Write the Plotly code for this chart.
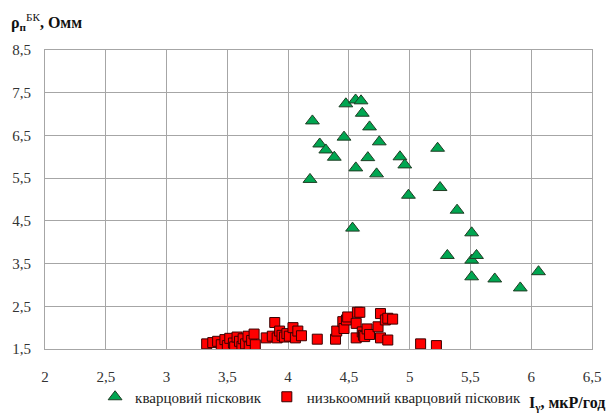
import plotly.graph_objects as go

# Quartz sandstone: gamma activity (мкР/год) vs apparent resistivity (Омм)
quartz_x = [4.18, 4.20, 4.26, 4.31, 4.38, 4.46, 4.475, 4.53, 4.555, 4.557,
            4.60, 4.61, 4.656, 4.67, 4.728, 4.75, 4.92, 4.96, 4.99, 5.23,
            5.25, 5.31, 5.39, 5.51, 5.51, 5.51, 5.55, 5.70, 5.91, 6.06]
quartz_y = [5.47, 6.84, 6.30, 6.16, 5.99, 6.46, 7.24, 4.33, 7.33, 5.74,
            7.31, 7.02, 5.98, 6.70, 5.60, 6.35, 6.00, 5.81, 5.10, 6.20,
            5.28, 3.69, 4.75, 4.22, 3.58, 3.19, 3.69, 3.14, 2.93, 3.31]

# Low-resistivity quartz sandstone
lowres_x = [3.33, 3.38, 3.42, 3.45, 3.48, 3.50, 3.52, 3.55, 3.56, 3.58,
            3.60, 3.62, 3.63, 3.65, 3.67, 3.68, 3.70, 3.72, 3.73,
            3.82, 3.87, 3.89, 3.91, 3.93, 3.95, 3.97, 3.99, 4.01, 4.04,
            4.06, 4.08, 4.11, 4.24, 4.39, 4.40, 4.45, 4.46, 4.48, 4.49,
            4.56, 4.56, 4.57, 4.59, 4.61, 4.62, 4.63, 4.65, 4.67, 4.74,
            4.76, 4.76, 4.80, 4.82, 4.82, 4.86, 5.09, 5.22]
lowres_y = [1.62, 1.65, 1.68, 1.60, 1.72, 1.58, 1.75, 1.64, 1.55, 1.78,
            1.68, 1.56, 1.74, 1.62, 1.80, 1.55, 1.70, 1.85, 1.60,
            1.76, 1.80, 2.12, 1.76, 1.92, 1.82, 1.78, 1.86, 1.80, 2.00,
            1.76, 1.92, 1.81, 1.73, 1.73, 1.92, 2.14, 1.98, 2.18, 2.25,
            2.10, 1.76, 2.36, 2.36, 1.90, 1.82, 1.79, 1.97, 1.84, 2.02,
            2.33, 1.76, 2.18, 2.22, 1.71, 2.20, 1.62, 1.58]

x_range = [2, 6.5]
y_range = [1.5, 8.5]

FONT = "Liberation Serif"
GRID = "#a6a6a6"

fig = go.Figure()
fig.add_trace(go.Scatter(
    x=quartz_x, y=quartz_y, mode="markers", name="кварцовий пісковик",
    marker=dict(symbol="triangle-up", size=12, color="#00a651",
                line=dict(color="#1f3d24", width=1)),
))
fig.add_trace(go.Scatter(
    x=lowres_x, y=lowres_y, mode="markers", name="низькоомний кварцовий пісковик",
    marker=dict(symbol="square", size=10, color="#ff0000",
                line=dict(color="#3a0000", width=1)),
))

fig.update_layout(
    width=609, height=415,
    margin=dict(l=45, r=17, t=50, b=66, autoexpand=False),
    paper_bgcolor="white", plot_bgcolor="white",
    separators=", ",
    font=dict(family=FONT, size=15, color="#222222"),
    showlegend=True,
    legend=dict(orientation="h", xref="container", yref="container",
                x=0.51, xanchor="center", y=1 - 397 / 415, yanchor="middle",
                font=dict(family=FONT, size=15, color="#222222"),
                itemwidth=30, tracegroupgap=0, bgcolor="rgba(0,0,0,0)"),
    xaxis=dict(range=x_range, tick0=2, dtick=0.5, showgrid=True, gridcolor=GRID,
               gridwidth=1, zeroline=False, showline=True, linecolor=GRID,
               mirror=True, ticks="", ticklabelstandoff=14,
               tickfont=dict(family=FONT, size=15, color="#333333")),
    yaxis=dict(range=y_range, tick0=1.5, dtick=1, showgrid=True, gridcolor=GRID,
               gridwidth=1, zeroline=False, showline=True, linecolor=GRID,
               mirror=True, ticks="", ticklabelstandoff=10,
               tickfont=dict(family=FONT, size=15, color="#333333")),
)

fig.add_annotation(
    xref="paper", yref="paper", x=-0.065, y=1.094, xanchor="left", yanchor="middle",
    text="<b>ρ<sub>п</sub></b><sup>БК</sup><b>, Омм</b>", showarrow=False,
    font=dict(family=FONT, size=16, color="#111111"),
)
fig.add_annotation(
    xref="paper", yref="paper", x=1.028, y=-0.183, xanchor="right", yanchor="middle",
    text="<b>I<sub>γ</sub>, мкР/год</b>", showarrow=False,
    font=dict(family=FONT, size=16, color="#111111"),
)

fig.write_html("out.html")
